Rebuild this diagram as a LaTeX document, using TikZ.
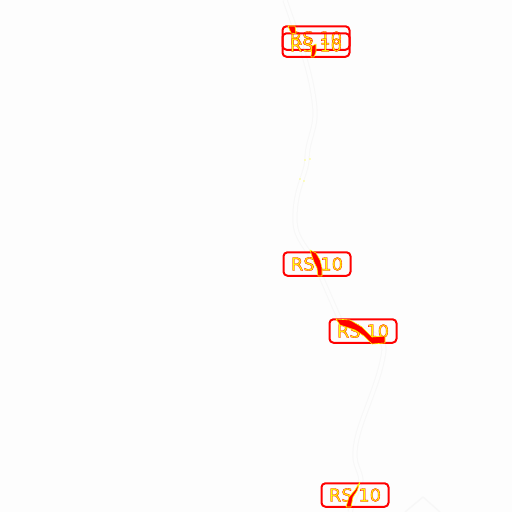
\documentclass[tikz,border=0pt]{standalone}
\usepackage{fontspec}
\setmainfont{DejaVu Sans}
\definecolor{bgc}{HTML}{FDFDFD}
\definecolor{roadc}{HTML}{F7F7F7}
\definecolor{signred}{HTML}{FF0000}
\definecolor{signyel}{HTML}{FFFF00}
\newdimen\ppx
\ppx=.75pt
\newcommand{\outlined}[1]{\special{pdf:code q 2 Tr 0.22 w 1 0 0 RG 1 1 0 rg}#1\special{pdf:code Q}}
\tikzset{
  blob/.style={fill=signred,draw=signyel,line width=.45pt,line join=round},
  signbox/.style={draw=signred,line width=1.5pt,rounded corners=3pt,minimum width=67\ppx,minimum height=23.5\ppx,inner sep=0pt,font=\fontsize{13.4}{14}\selectfont},
  spot/.style={fill=signyel,draw=none},
}
\begin{document}
\begin{tikzpicture}[x=.75pt,y=-.75pt]
\useasboundingbox (0,0) rectangle (512,512);
\fill[bgc] (0,0) rectangle (512,512);
% road
\coordinate (r0) at (285,0);
\coordinate (r1) at (315,110);
\coordinate (r2) at (307,160);
\coordinate (r3) at (295,222);
\coordinate (r4) at (316,265);
\coordinate (r5) at (340,320);
\coordinate (r6) at (384,350);
\coordinate (r7) at (355,452);
\coordinate (r8) at (361,480);
\coordinate (r9) at (350,512);
\foreach \w/\s in {3.9pt/roadc,2.4pt/bgc}{
  \draw[draw=\s,line width=\w,line join=round]
    (r0) .. controls (295,30) and (312,70) .. (r1)
    .. controls (316,130) and (307,140) .. (r2)
    .. controls (306,175) and (294,190) .. (r3)
    .. controls (296,240) and (308,248) .. (r4)
    -- (r5)
    .. controls (360,330) and (384,332) .. (r6)
    .. controls (380,385) and (356,425) .. (r7)
    .. controls (354,465) and (360,470) .. (r8)
    -- (r9);
}
\draw[draw=roadc,line width=1pt] (405,512) -- (423,497) -- (440,512);
% signs
\node[signbox] (s1) at (316,38) {\outlined{RS 10}};
\node[signbox] (s2) at (316,45) {\outlined{RS 10}};
\node[signbox] (s3) at (317,264) {\outlined{RS 10}};
\node[signbox] (s4) at (363,331) {\outlined{RS 10}};
\node[signbox] (s5) at (355,495) {\outlined{RS 10}};
% red marks
\path[blob] (310,250) -- (316,253) -- (320,260) -- (322,268) -- (322,276) -- (318,276) -- (317,268) -- (314,262) -- cycle;
\path[blob] (336,319) -- (350,320) -- (362,327) -- (372,337) -- (385,336) -- (385,343) -- (372,344) -- (364,336) -- (355,330) -- (340,325) -- cycle;
\path[blob] (360,482) -- (357,491) -- (353,497) -- (351,507) -- (346,507) -- (349,497) -- (355,490) -- cycle;
\path[blob] (288,26) -- (295,26) -- (296,34) -- (291,33) -- cycle;
\path[blob] (312,46) -- (316,44) -- (316,52) -- (314,57) -- (311,57) -- cycle;
% specks
\fill[spot] (305,160) circle (.7);
\fill[spot] (310,159) circle (.7);
\fill[spot] (300,179) circle (.7);
\fill[spot] (304,181) circle (.7);
\end{tikzpicture}
\end{document}
